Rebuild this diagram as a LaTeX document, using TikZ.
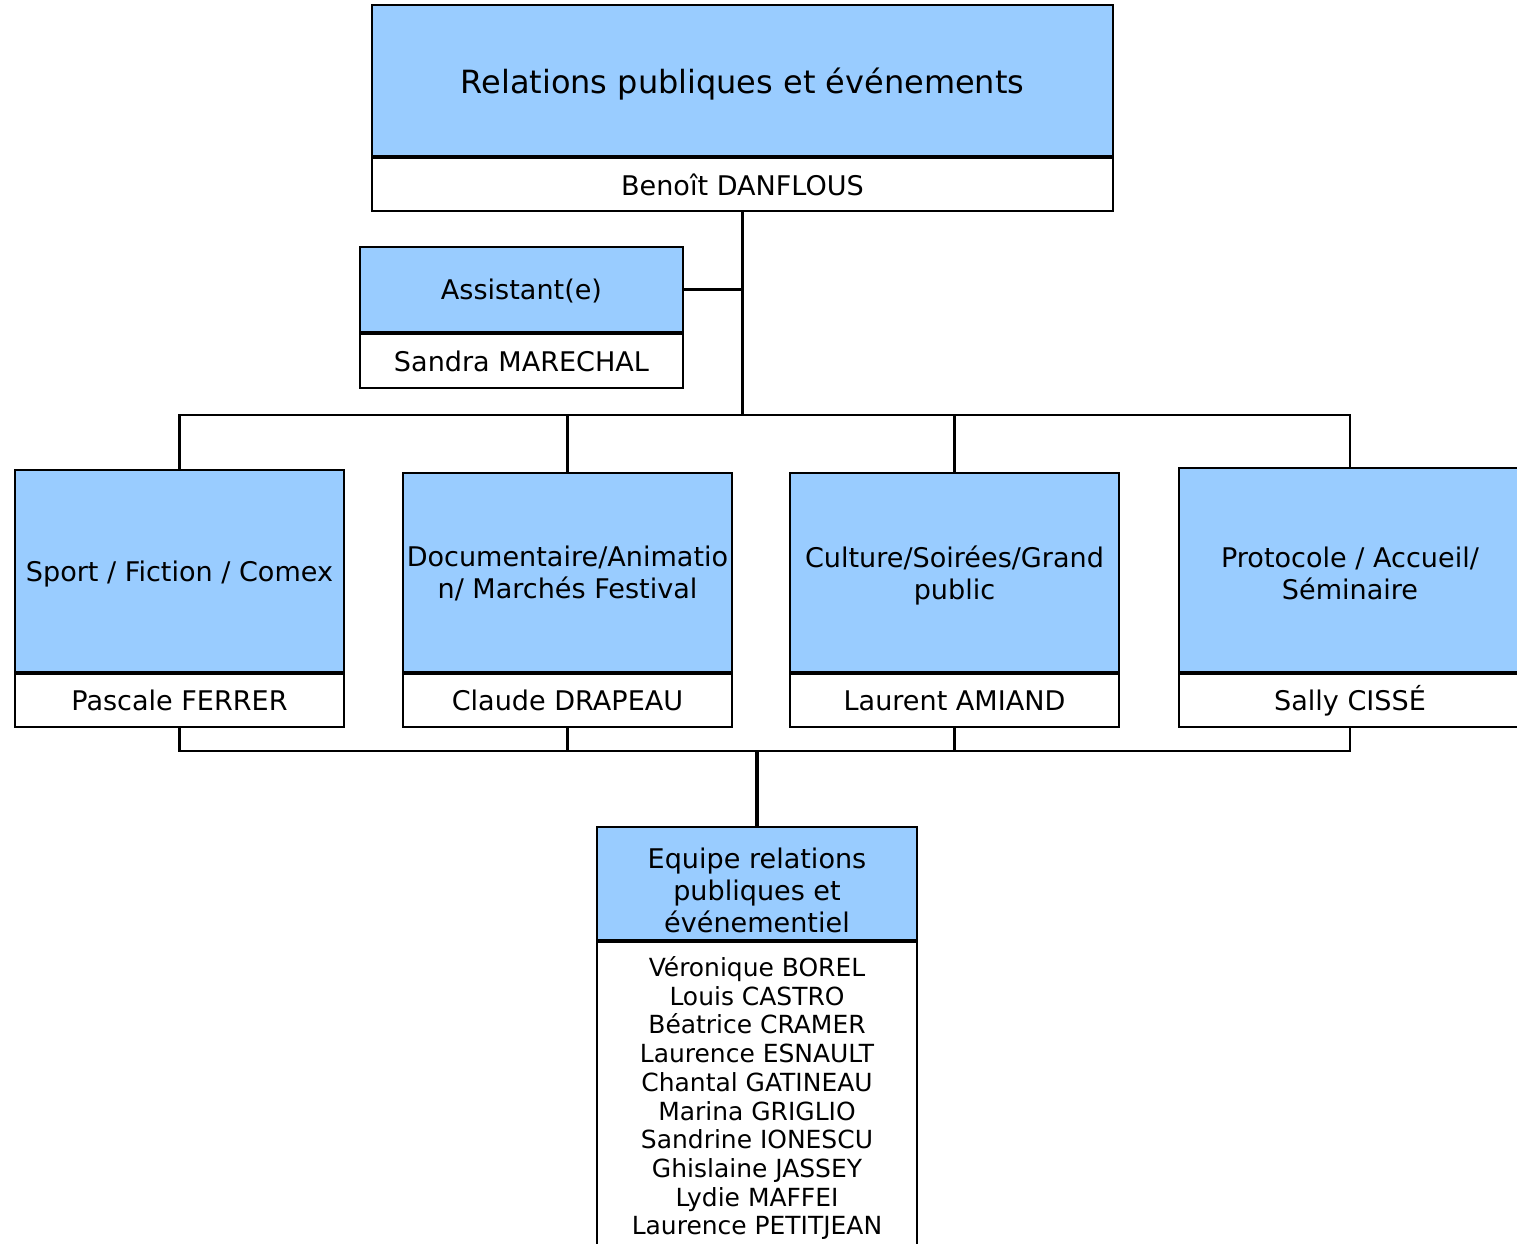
\documentclass[tikz,border=0pt]{standalone}
\usepackage{fontspec}
\setmainfont{DejaVu Sans}
\usetikzlibrary{positioning}
\definecolor{unitblue}{RGB}{153,204,255}

\begin{document}
\begin{tikzpicture}[
    unit/.style={draw, line width=0.6pt, fill=unitblue, inner sep=0pt, align=center, text depth=-0.03cm, font=\fontsize{7.7}{9.1}\selectfont},
    holder/.style={draw, line width=0.6pt, fill=white, inner sep=0pt, align=center, font=\fontsize{7.7}{9}\selectfont, minimum height=0.53cm},
    link/.style={line width=0.6pt},
    trunk/.style={line width=0.9pt}
]
    \clip (0,0) rectangle (15.17,-12.43);

    % head of the department
    \node[unit, minimum width=7.41cm, minimum height=1.51cm, font=\fontsize{9.1}{11}\selectfont] (rpe) at (7.425,-0.805) {Relations publiques et événements};
    \node[holder, minimum width=7.41cm, below=0pt of rpe] (rpe-n) {Benoît DANFLOUS};

    % assistant
    \node[unit, minimum width=3.23cm, minimum height=0.85cm] (asst) at (5.215,-2.895) {Assistant(e)};
    \node[holder, minimum width=3.23cm, minimum height=0.54cm, below=0pt of asst] (asst-n) {Sandra MARECHAL};

    % the four units
    \node[unit, minimum width=3.29cm, minimum height=2.02cm, anchor=south] (sport) at (1.795,-6.73) {Sport / Fiction / Comex};
    \node[unit, minimum width=3.29cm, minimum height=1.99cm, anchor=south] (docu) at (5.675,-6.73) {Documentaire/Animatio\\n/ Marchés Festival};
    \node[unit, minimum width=3.29cm, minimum height=1.99cm, anchor=south] (cult) at (9.545,-6.73) {Culture/Soirées/Grand\\public};
    \node[unit, minimum width=3.42cm, minimum height=2.04cm, anchor=south] (proto) at (13.50,-6.73) {\rule{0pt}{0.27cm}Protocole / Accueil/\\Séminaire};
    \node[holder, minimum width=3.29cm, below=0pt of sport] (sport-n) {Pascale FERRER};
    \node[holder, minimum width=3.29cm, below=0pt of docu] (docu-n) {Claude DRAPEAU};
    \node[holder, minimum width=3.29cm, below=0pt of cult] (cult-n) {Laurent AMIAND};
    \node[holder, minimum width=3.42cm, below=0pt of proto] (proto-n) {Sally CISSÉ};

    % team
    \node[unit, minimum width=3.2cm, minimum height=1.13cm, anchor=north] (team) at (7.57,-8.26) {\rule{0pt}{0.33cm}Equipe relations\\publiques et\\événementiel};
    \node[holder, minimum width=3.2cm, minimum height=3.12cm, below=0pt of team, font=\fontsize{7.1}{8.16}\selectfont] (team-n) {Véronique BOREL\\Louis CASTRO\\Béatrice CRAMER\\Laurence ESNAULT\\Chantal GATINEAU\\Marina GRIGLIO\\Sandrine IONESCU\\Ghislaine JASSEY\\Lydie MAFFEI\\Laurence PETITJEAN};

    % connectors
    \draw[trunk] (rpe-n.south) -- ++(0,-2.03) coordinate (upbus);
    \draw[link] (asst.east) -- (asst.east -| upbus);
    \coordinate (lowbus) at (7.57,-7.51);
    \foreach \u in {sport,docu,cult,proto} {
        \draw[link] (\u.north) |- (upbus);
        \draw[link] (\u-n.south) |- (lowbus);
    }
    \draw[trunk] (lowbus) -- (team.north);
\end{tikzpicture}
\end{document}
